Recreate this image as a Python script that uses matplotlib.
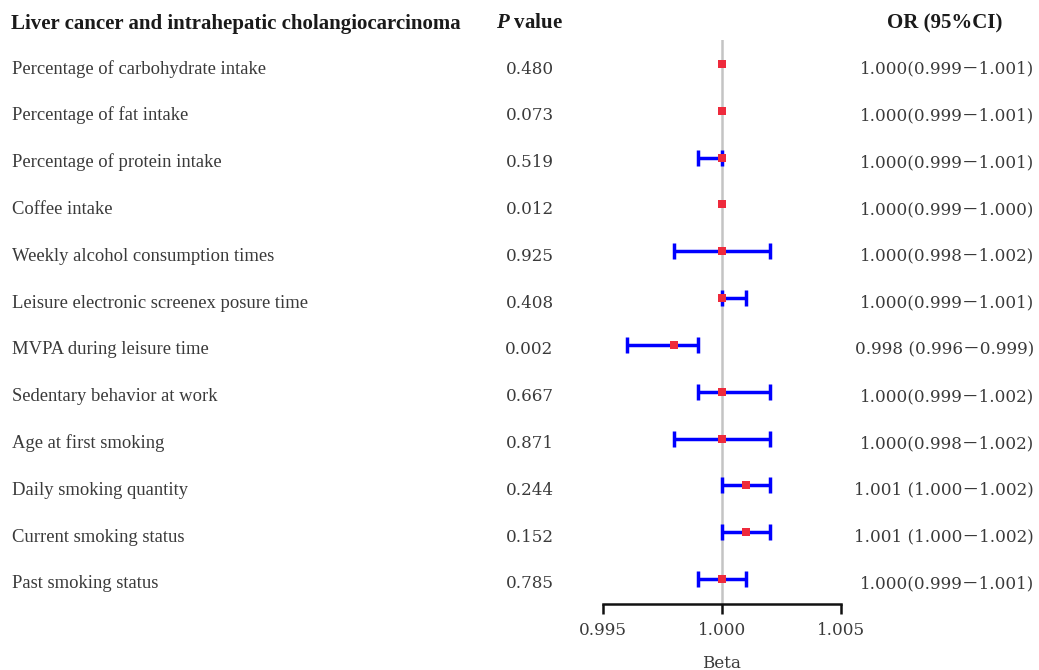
import matplotlib
matplotlib.use("Agg")
import matplotlib.pyplot as plt
import numpy as np

labels = [
    "Percentage of carbohydrate intake",
    "Percentage of fat intake",
    "Percentage of protein intake",
    "Coffee intake",
    "Weekly alcohol consumption times",
    "Leisure electronic screenex posure time",
    "MVPA during leisure time",
    "Sedentary behavior at work",
    "Age at first smoking",
    "Daily smoking quantity",
    "Current smoking status",
    "Past smoking status",
]
p_values = ["0.480", "0.073", "0.519", "0.012", "0.925", "0.408", "0.002",
            "0.667", "0.871", "0.244", "0.152", "0.785"]
or_text = [
    "1.000(0.999－1.001)", "1.000(0.999－1.001)", "1.000(0.999－1.001)",
    "1.000(0.999－1.000)", "1.000(0.998－1.002)", "1.000(0.999－1.001)",
    "0.998 (0.996－0.999)", "1.000(0.999－1.002)", "1.000(0.998－1.002)",
    "1.001 (1.000－1.002)", "1.001 (1.000－1.002)", "1.000(0.999－1.001)",
]
beta = [1.000, 1.000, 1.000, 1.000, 1.000, 1.000, 0.998, 1.000, 1.000, 1.001, 1.001, 1.000]
ci_low = [1.000, 1.000, 0.999, 1.000, 0.998, 1.000, 0.996, 0.999, 0.998, 1.000, 1.000, 0.999]
ci_high = [1.000, 1.000, 1.000, 1.000, 1.002, 1.001, 0.999, 1.002, 1.002, 1.002, 1.002, 1.001]
xticks = [0.995, 1.000, 1.005]
xtick_labels = ["0.995", "1.000", "1.005"]

plt.rcParams["mathtext.fontset"] = "custom"
plt.rcParams["mathtext.it"] = "Liberation Serif:italic:bold"
plt.rcParams["mathtext.rm"] = "Liberation Serif:bold"

W, H = 1039, 670
fig = plt.figure(figsize=(W / 100, H / 100), dpi=100)
FONT = ["Liberation Serif", "Noto Sans CJK SC"]
NUMFONT = ["DejaVu Serif", "Noto Sans CJK SC"]
TC = "#3a3a3a"
HC = "#1a1a1a"
FS = 13.4
NFS = 12.1

def fx(px):
    return px / W

def fy(py):
    return 1 - py / H

ax = fig.add_axes([fx(603), fy(604), fx(841) - fx(603), fy(40) - fy(604)])
ax.set_xlim(0.995, 1.005)
ax.set_ylim(11.53, -0.51)
ax.axvline(1.0, color="#c4c4c4", lw=1.8, zorder=1)

y = np.arange(len(labels))
b = np.array(beta)
lo = np.array(ci_low)
hi = np.array(ci_high)
mask = (hi - lo) > 0
ax.errorbar(b[mask], y[mask], xerr=[b[mask] - lo[mask], hi[mask] - b[mask]],
            fmt="none", ecolor="#0000ff", elinewidth=2.5, capsize=5.5, capthick=2.5, zorder=2)
ax.scatter(b, y, marker="s", s=27, color="#ee2a3c", zorder=3, linewidths=0)

for s in ["top", "right", "left"]:
    ax.spines[s].set_visible(False)
ax.spines["bottom"].set_linewidth(1.8)
ax.spines["bottom"].set_color("#111111")
ax.set_yticks([])
ax.set_xticks(xticks)
ax.set_xticklabels(xtick_labels, fontfamily=NUMFONT, fontsize=NFS, color=TC)
ax.tick_params(axis="x", direction="out", length=7, width=1.8, color="#111111", pad=6)
fig.text(fx(722), fy(668), "Beta", ha="center", va="baseline",
         fontfamily=NUMFONT, fontsize=NFS, color=TC)

# row text
row_px = [64 + i * (579 - 64) / 11 for i in range(len(labels))]
for i in range(len(labels)):
    ty = fy(row_px[i] + 9.5)
    fig.text(fx(12), ty, labels[i], ha="left", va="baseline", fontfamily=FONT, fontsize=FS, color=TC)
    fig.text(fx(529.5), ty, p_values[i], ha="center", va="baseline", fontfamily=NUMFONT, fontsize=NFS, color=TC)
    fig.text(fx(1034), ty, or_text[i], ha="right", va="baseline", fontfamily=NUMFONT, fontsize=NFS, color=TC)

fig.text(fx(11), fy(28.5), "Liver cancer and intrahepatic cholangiocarcinoma", ha="left", va="baseline",
         fontfamily=FONT, fontsize=15, color=HC, fontweight="bold")
fig.text(fx(529.5), fy(28.5), r"$\mathit{P}$ value", ha="center", va="baseline",
         fontfamily=FONT, fontsize=15, color=HC, fontweight="bold")
fig.text(fx(944.5), fy(28.5), "OR (95%CI)", ha="center", va="baseline",
         fontfamily=FONT, fontsize=15, color=HC, fontweight="bold")

fig.savefig("out.png", dpi=100)
